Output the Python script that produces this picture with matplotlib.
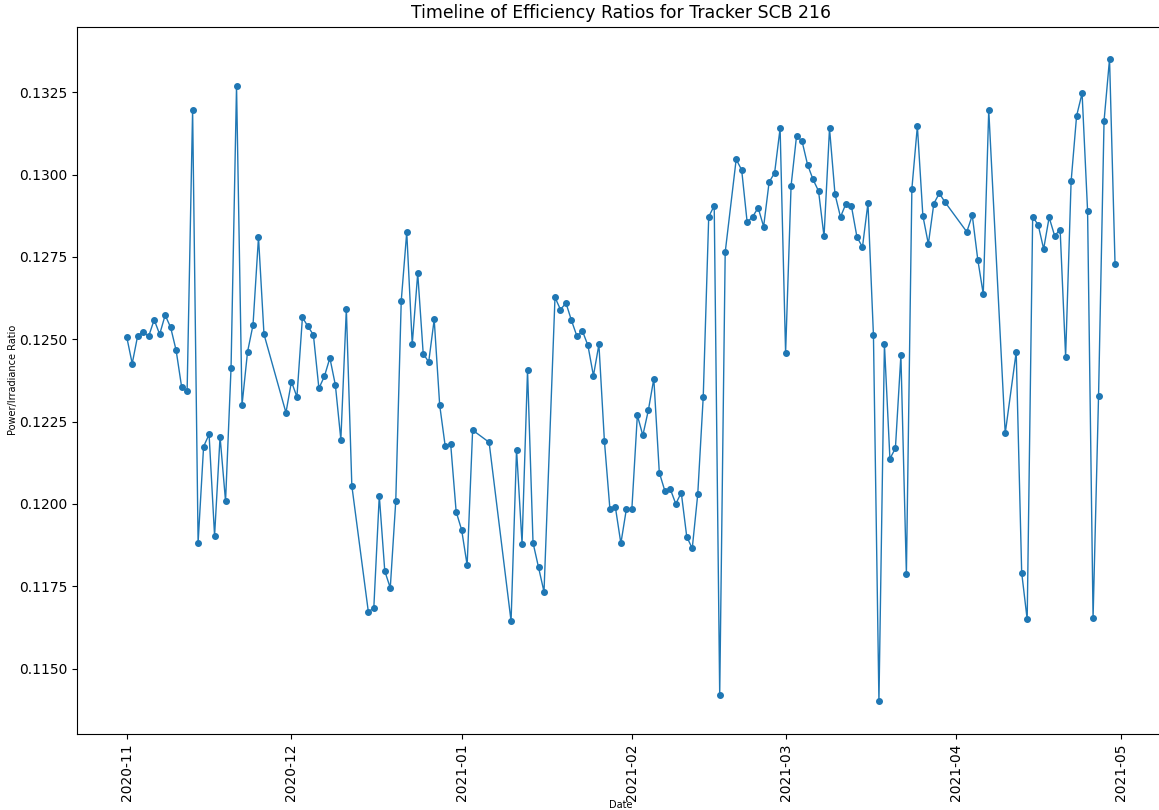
import matplotlib
matplotlib.use("Agg")
import matplotlib.pyplot as plt
import matplotlib.dates as mdates
import pandas as pd

# days with a reading, per month, and the ratio read on each of them
nov_days = list(range(1, 27)) + [30]
nov_vals = [0.12507, 0.12426, 0.12511, 0.12521, 0.12509, 0.12559, 0.12515, 0.12573,
            0.12536, 0.12466, 0.12355, 0.12343, 0.13196, 0.11882, 0.12174, 0.12211,
            0.11903, 0.12204, 0.12008, 0.12413, 0.13269, 0.12300, 0.12461, 0.12543,
            0.12810, 0.12515, 0.12277]

dec_days = list(range(1, 13)) + list(range(15, 32))
dec_vals = [0.12371, 0.12325, 0.12566, 0.12539, 0.12513, 0.12351, 0.12387, 0.12443,
            0.12361, 0.12195, 0.12592, 0.12055,
            0.11673, 0.11683, 0.12025, 0.11796, 0.11745, 0.12008, 0.12617, 0.12825,
            0.12485, 0.12700, 0.12456, 0.12431, 0.12560, 0.12300, 0.12176, 0.12182,
            0.11976]

jan_days = [1, 2, 3, 6, 10, 11, 12, 13, 14, 15, 16] + list(range(18, 32))
jan_vals = [0.11921, 0.11814, 0.12224, 0.12187, 0.11644, 0.12165, 0.11879, 0.12406,
            0.11882, 0.11807, 0.11733,
            0.12627, 0.12590, 0.12610, 0.12557, 0.12509, 0.12525, 0.12481, 0.12389,
            0.12484, 0.12191, 0.11985, 0.11990, 0.11880, 0.11984]

feb_days = list(range(1, 19)) + list(range(20, 29))
feb_vals = [0.11984, 0.12269, 0.12208, 0.12284, 0.12380, 0.12095, 0.12040, 0.12045,
            0.12000, 0.12034, 0.11900, 0.11865, 0.12029, 0.12325, 0.12872, 0.12905,
            0.11420, 0.12764,
            0.13046, 0.13014, 0.12855, 0.12872, 0.12899, 0.12842, 0.12977, 0.13005,
            0.13140]

mar_days = list(range(1, 31))
mar_vals = [0.12458, 0.12966, 0.13118, 0.13101, 0.13030, 0.12985, 0.12950, 0.12812,
            0.13140, 0.12940, 0.12871, 0.12912, 0.12903, 0.12810, 0.12780, 0.12913,
            0.12512, 0.11400, 0.12485, 0.12137, 0.12169, 0.12451, 0.11787, 0.12957,
            0.13147, 0.12875, 0.12789, 0.12912, 0.12943, 0.12917]

apr_days = [3, 4, 5, 6, 7, 10] + list(range(12, 31))
apr_vals = [0.12826, 0.12876, 0.12742, 0.12637, 0.13196, 0.12214,
            0.12461, 0.11791, 0.11649, 0.12872, 0.12847, 0.12774, 0.12870, 0.12814,
            0.12833, 0.12447, 0.12979, 0.13178, 0.13247, 0.12890, 0.11653, 0.12329,
            0.13163, 0.13351, 0.12729]

months = [("2020-11", nov_days, nov_vals), ("2020-12", dec_days, dec_vals),
          ("2021-01", jan_days, jan_vals), ("2021-02", feb_days, feb_vals),
          ("2021-03", mar_days, mar_vals), ("2021-04", apr_days, apr_vals)]

dates, ratios = [], []
for ym, days, vals in months:
    assert len(days) == len(vals), ym
    dates += [pd.Timestamp("{}-{:02d}".format(ym, d)) for d in days]
    ratios += vals

fig = plt.figure(figsize=(11.59, 8.10), dpi=100)
# axes run past the right edge of the picture, as in the reference
ax = fig.add_axes([0.0667, 0.0943, 0.938, 0.8726])

ax.plot(dates, ratios, marker='o', markersize=4, linewidth=1, color='#1f77b4')

ax.xaxis.set_major_locator(mdates.MonthLocator())
ax.xaxis.set_major_formatter(mdates.DateFormatter('%Y-%m'))
ax.tick_params(axis='x', labelrotation=90, labelsize=10)
ax.tick_params(axis='y', labelsize=10)

ax.set_title('Timeline of Efficiency Ratios for Tracker SCB 216', fontsize=12.4)
ax.set_xlabel('Date', fontsize=7)
ax.set_ylabel('Power/Irradiance Ratio', fontsize=7)
# labels sit tighter than the default padding
ax.xaxis.set_label_coords(0.5, -0.0935)
ax.yaxis.set_label_coords(-0.055, 0.5)

fig.savefig('out.png', dpi=100)
